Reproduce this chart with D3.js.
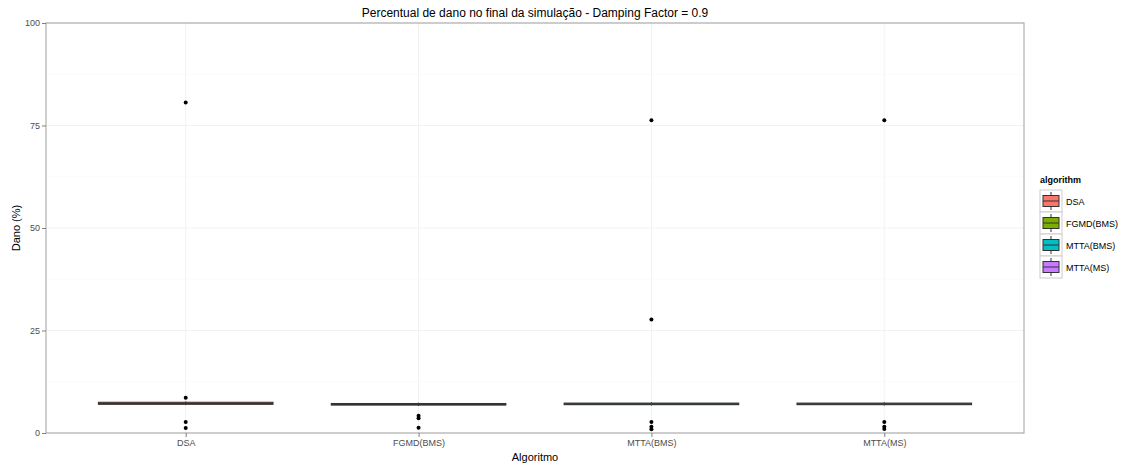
<!doctype html>
<html>
<head>
<meta charset="utf-8">
<title>Percentual de dano</title>
<script src="https://d3js.org/d3.v7.min.js"></script>
<style>
body { margin: 0; background: #fff; font-family: "Liberation Sans", Arial, sans-serif; }
svg { display: block; }
.tick text { fill: #4d4d4d; font-size: 9px; }
</style>
</head>
<body>
<script>
// data
var algorithms = ["DSA", "FGMD(BMS)", "MTTA(BMS)", "MTTA(MS)"];
var colors = ["#F8766D", "#7CAE00", "#00BFC4", "#C77CFF"];
// box stats: lower whisker, q1, median, q3, upper whisker
var lowerWhisker = [6.8, 6.6, 6.7, 6.7];
var q1 = [7.0, 6.8, 6.9, 6.9];
var median = [7.2, 7.0, 7.1, 7.1];
var q3 = [7.5, 7.2, 7.3, 7.3];
var upperWhisker = [7.7, 7.4, 7.5, 7.5];
var outliers = [
  [80.6, 8.6, 2.7, 1.2],
  [4.2, 3.6, 1.3],
  [76.3, 27.7, 2.7, 1.5, 0.9],
  [76.3, 2.7, 1.5, 1.0]
];
var yTicks = [0, 25, 50, 75, 100];
var yMinor = [12.5, 37.5, 62.5, 87.5];

var W = 1123, H = 465;
var margin = {top: 23, right: 99, bottom: 32, left: 46};
var width = W - margin.left - margin.right,
    height = H - margin.top - margin.bottom;

var svg = d3.select("body").append("svg").attr("width", W).attr("height", H);
var g = svg.append("g").attr("transform", "translate(" + margin.left + "," + margin.top + ")");

var x = d3.scalePoint().domain(algorithms).range([0, width]).padding(0.6);
var step = x.step();
var y = d3.scaleLinear().domain([0, 100]).range([height, 0]);

// grid
g.selectAll(".minor").data(yMinor).enter().append("line")
  .attr("x1", 0).attr("x2", width)
  .attr("y1", function(d){ return y(d); }).attr("y2", function(d){ return y(d); })
  .attr("stroke", "#fbfbfb").attr("stroke-width", 1);
g.selectAll(".major").data(yTicks).enter().append("line")
  .attr("x1", 0).attr("x2", width)
  .attr("y1", function(d){ return y(d); }).attr("y2", function(d){ return y(d); })
  .attr("stroke", "#f2f2f2").attr("stroke-width", 1);
g.selectAll(".vmajor").data(algorithms).enter().append("line")
  .attr("x1", function(d){ return x(d); }).attr("x2", function(d){ return x(d); })
  .attr("y1", 0).attr("y2", height)
  .attr("stroke", "#f2f2f2").attr("stroke-width", 1);

// boxes
var bw = step * 0.75;
var boxes = g.selectAll(".box").data(algorithms).enter().append("g");
boxes.append("line")
  .attr("x1", function(d){ return x(d); }).attr("x2", function(d){ return x(d); })
  .attr("y1", function(d, i){ return y(upperWhisker[i]); })
  .attr("y2", function(d, i){ return y(lowerWhisker[i]); })
  .attr("stroke", "#333");
boxes.append("rect")
  .attr("x", function(d){ return x(d) - bw / 2; })
  .attr("width", bw)
  .attr("y", function(d, i){ return y(q3[i]); })
  .attr("height", function(d, i){ return y(q1[i]) - y(q3[i]); })
  .attr("fill", function(d, i){ return colors[i]; })
  .attr("stroke", "#333").attr("stroke-width", 1);
boxes.append("line")
  .attr("x1", function(d){ return x(d) - bw / 2; }).attr("x2", function(d){ return x(d) + bw / 2; })
  .attr("y1", function(d, i){ return y(median[i]); })
  .attr("y2", function(d, i){ return y(median[i]); })
  .attr("stroke", "#333").attr("stroke-width", 1.5);

// outliers
algorithms.forEach(function(a, i) {
  g.selectAll(".out" + i).data(outliers[i]).enter().append("circle")
    .attr("cx", x(a)).attr("cy", function(d){ return y(d); })
    .attr("r", 2).attr("fill", "#000");
});

// panel border
g.append("rect").attr("width", width).attr("height", height)
  .attr("fill", "none").attr("stroke", "#a0a0a0").attr("stroke-width", 1);

// axes
var yAxis = g.append("g").call(d3.axisLeft(y).tickValues(yTicks).tickSize(4).tickPadding(2));
var xAxis = g.append("g").attr("transform", "translate(0," + height + ")")
  .call(d3.axisBottom(x).tickSize(4).tickPadding(3));
[yAxis, xAxis].forEach(function(a) {
  a.select(".domain").remove();
  a.selectAll(".tick line").attr("stroke", "#7f7f7f");
  a.selectAll("text").style("font-family", "Liberation Sans, Arial, sans-serif");
});

// titles
svg.append("text").attr("x", margin.left + width / 2).attr("y", 17)
  .attr("text-anchor", "middle").style("font-size", "12px").attr("fill", "#000")
  .text("Percentual de dano no final da simulação - Damping Factor = 0.9");
svg.append("text").attr("x", margin.left + width / 2).attr("y", 461)
  .attr("text-anchor", "middle").style("font-size", "11px")
  .text("Algoritmo");
svg.append("text").attr("transform", "translate(20," + (margin.top + height / 2) + ") rotate(-90)")
  .attr("text-anchor", "middle").style("font-size", "11px")
  .text("Dano (%)");

// legend
var lg = svg.append("g").attr("transform", "translate(1040,175)");
lg.append("text").attr("x", 0).attr("y", 8).style("font-size", "9px").style("font-weight", "bold")
  .text("algorithm");
var items = lg.selectAll(".item").data(algorithms).enter().append("g")
  .attr("transform", function(d, i){ return "translate(0," + (15 + i * 22) + ")"; });
items.append("rect").attr("width", 22).attr("height", 22)
  .attr("fill", "#fff").attr("stroke", "#ccc");
items.append("line").attr("x1", 11).attr("x2", 11).attr("y1", 2).attr("y2", 20).attr("stroke", "#333");
items.append("rect").attr("x", 3).attr("y", 5.5).attr("width", 16).attr("height", 11)
  .attr("fill", function(d, i){ return colors[i]; }).attr("stroke", "#333");
items.append("line").attr("x1", 3).attr("x2", 19).attr("y1", 11).attr("y2", 11).attr("stroke", "#333");
items.append("text").attr("x", 26).attr("y", 14.5).style("font-size", "9px").text(function(d){ return d; });
</script>
</body>
</html>
